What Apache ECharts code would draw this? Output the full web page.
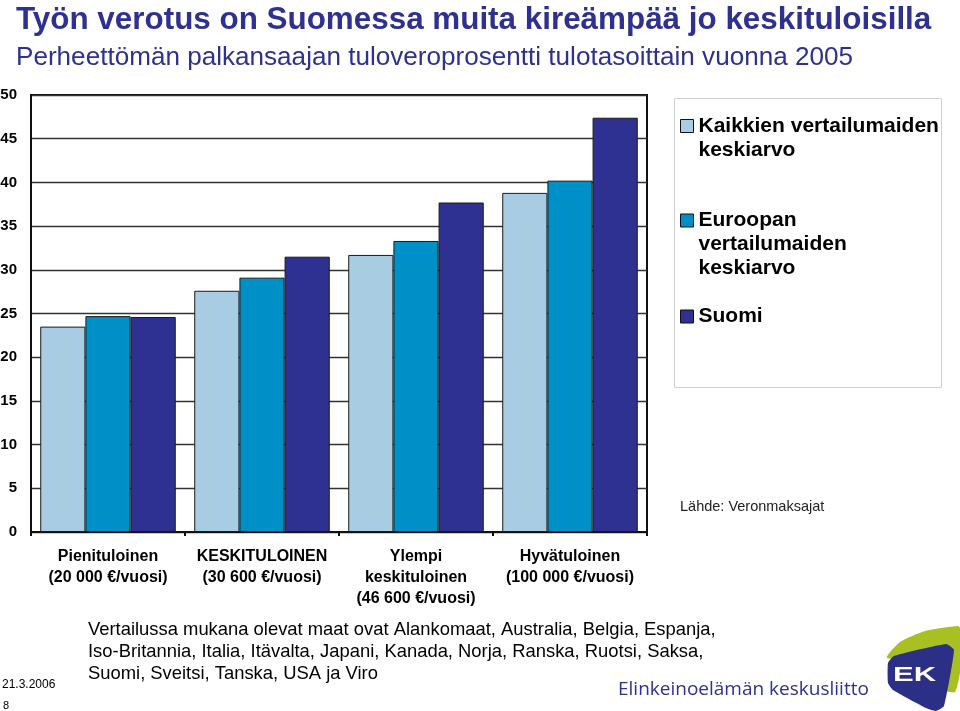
<!DOCTYPE html>
<html>
<head>
<meta charset="utf-8">
<script src="https://cdn.jsdelivr.net/npm/echarts@6/dist/echarts.min.js"></script>
<style>html,body{margin:0;padding:0;background:#fff}#c{width:960px;height:711px}</style>
</head>
<body>
<div id="c"></div>
<script>
const categories = ['Pienituloinen\n(20 000 €/vuosi)', 'KESKITULOINEN\n(30 600 €/vuosi)', 'Ylempi\nkeskituloinen\n(46 600 €/vuosi)', 'Hyvätuloinen\n(100 000 €/vuosi)'];
const seriesNames = ['Kaikkien vertailumaiden\nkeskiarvo', 'Euroopan\nvertailumaiden\nkeskiarvo', 'Suomi'];
const kaikki = [23.5, 27.6, 31.7, 38.8];
const eurooppa = [24.7, 29.1, 33.3, 40.2];
const suomi = [24.6, 31.5, 37.7, 47.4];
const yTicks = [0, 50, 5];

const colors = ['#a8cde2', '#0090c8', '#2e3192'];
const chart = echarts.init(document.getElementById('c'), null, {renderer: 'canvas'});

// Legend text is centred on its icon; leading blank lines put the icon beside the first line.
function mkLegend(i, top) {
  const lines = seriesNames[i].split('\n').length;
  const lead = '\n'.repeat(lines - 1);
  return {
    data: [seriesNames[i]],
    formatter: function (n) { return lead + n; },
    left: 680, top: top, padding: 0, orient: 'vertical',
    itemWidth: 13, itemHeight: 13, icon: 'rect', selectedMode: false,
    itemStyle: {borderColor: '#111', borderWidth: 1},
    textStyle: {fontFamily: 'Liberation Sans, Arial', fontWeight: 'bold', fontSize: 21, lineHeight: 24, color: '#000'}
  };
}

const option = {
  animation: false,
  backgroundColor: '#fff',
  title: [
    {text: 'Työn verotus on Suomessa muita kireämpää jo keskituloisilla', left: 11, top: 0,
     textStyle: {fontFamily: 'Liberation Sans, Arial', fontWeight: 'bold', fontSize: 31.4, color: '#2e3192'}},
    {text: 'Perheettömän palkansaajan tuloveroprosentti tulotasoittain vuonna 2005', left: 11, top: 40,
     textStyle: {fontFamily: 'Liberation Sans, Arial', fontWeight: 'normal', fontSize: 26.1, color: '#2e3192'}}
  ],
  legend: [mkLegend(0, 90), mkLegend(1, 160.5), mkLegend(2, 304.5)],
  grid: {left: 31, right: 313, top: 95, bottom: 179, show: true, borderColor: '#111', borderWidth: 2,
         backgroundColor: 'transparent', containLabel: false, outerBoundsMode: 'none'},
  xAxis: {
    type: 'category', data: categories,
    axisLine: {lineStyle: {color: '#111', width: 2}},
    axisTick: {show: true, length: 4, lineStyle: {color: '#111', width: 2}},
    axisLabel: {margin: 14, fontFamily: 'Liberation Sans, Arial', fontWeight: 'bold', fontSize: 16, lineHeight: 21, color: '#000', interval: 0}
  },
  yAxis: {
    type: 'value', min: yTicks[0], max: yTicks[1], interval: yTicks[2],
    axisLine: {show: true, lineStyle: {color: '#111', width: 2}},
    axisTick: {show: false},
    axisLabel: {margin: 14, fontFamily: 'Liberation Sans, Arial', fontWeight: 'bold', fontSize: 15, color: '#000'},
    splitLine: {lineStyle: {color: '#333', width: 1.3}}
  },
  series: [
    {name: seriesNames[0], type: 'bar', data: kaikki, barGap: '0%', barCategoryGap: '12%',
     itemStyle: {color: colors[0], borderColor: '#1a1a1a', borderWidth: 1}},
    {name: seriesNames[1], type: 'bar', data: eurooppa, barGap: '0%', barCategoryGap: '12%',
     itemStyle: {color: colors[1], borderColor: '#1a1a1a', borderWidth: 1}},
    {name: seriesNames[2], type: 'bar', data: suomi, barGap: '0%', barCategoryGap: '12%',
     itemStyle: {color: colors[2], borderColor: '#1a1a1a', borderWidth: 1}}
  ],
  graphic: [
    {type: 'rect', shape: {x: 674.5, y: 98.5, width: 267, height: 289}, style: {fill: 'none', stroke: '#d0d0d0', lineWidth: 1}, z: -1},
    {type: 'text', x: 680, y: 499, style: {text: 'Lähde: Veronmaksajat', font: '14.5px "Liberation Sans", Arial', fill: '#222'}},
    {type: 'text', x: 88, y: 619, style: {text: 'Vertailussa mukana olevat maat ovat Alankomaat, Australia, Belgia, Espanja,\nIso-Britannia, Italia, Itävalta, Japani, Kanada, Norja, Ranska, Ruotsi, Saksa,\nSuomi, Sveitsi, Tanska, USA ja Viro', font: '18.4px "Liberation Sans", Arial', lineHeight: 22, fill: '#000'}},
    {type: 'text', x: 2, y: 679, style: {text: '21.3.2006', font: '12px "Liberation Sans", Arial', fill: '#000'}},
    {type: 'text', x: 3, y: 700, style: {text: '8', font: '11px "Liberation Sans", Arial', fill: '#000'}},
    {type: 'text', x: 618, y: 680, style: {text: 'Elinkeinoelämän keskusliitto', font: '19px "Open Sans", Arial', fill: '#2e3192'}},
    {type: 'polygon', shape: {points: [[887, 658], [900, 642], [925, 631], [958, 626], [960, 628], [960, 672], [955, 692], [945, 690], [940, 660]], smooth: 0.2}, style: {fill: '#a9c023'}},
    {type: 'polygon', shape: {points: [[888, 663], [894, 656], [946, 644], [954, 650], [944, 706], [936, 711], [926, 708], [893, 690], [888, 683]], smooth: 0.15}, style: {fill: '#2b2f86'}},
    {type: 'text', x: 893, y: 665, scaleX: 1.55, style: {text: 'EK', font: 'bold 20px "Liberation Sans", Arial', fill: '#fff'}}
  ]
};
chart.setOption(option);
</script>
</body>
</html>
